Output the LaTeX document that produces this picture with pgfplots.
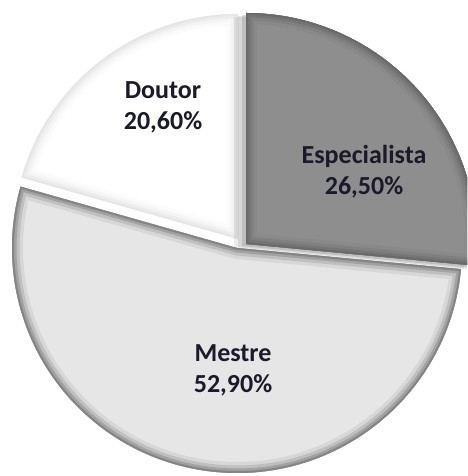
\documentclass[border=0pt]{standalone}
\usepackage{pgfplots}
\pgfplotsset{compat=1.18}
\usepackage{fontspec}
\setmainfont{Carlito}
\definecolor{espfill}{HTML}{8E8E8E}
\definecolor{espedge}{HTML}{6A6A6A}
\definecolor{mesfill}{HTML}{E6E6E6}
\definecolor{mesedge}{HTML}{858585}
\definecolor{doufill}{HTML}{FFFFFF}
\definecolor{douedge}{HTML}{E6E6E6}
\definecolor{labtxt}{HTML}{1A1A2A}
% shares (%)
\def\pEsp{26.5}
\def\pMes{52.9}
\def\pDou{20.6}
\pgfmathsetmacro\aA{90}
\pgfmathsetmacro\aB{90-3.6*\pEsp}
\pgfmathsetmacro\aC{\aB-3.6*\pMes}
\pgfmathsetmacro\aD{\aC-3.6*\pDou}
% #1,#2 apex, #3,#4 angles, #5 fill, #6 edge, #7 radius
\newcommand\slice[7]{%
  \begin{scope}
    \clip (axis cs:#1,#2) -- ++(#3:#7) arc[start angle=#3,end angle=#4,radius=#7] -- cycle;
    \fill[#5] (axis cs:#1,#2) -- ++(#3:#7) arc[start angle=#3,end angle=#4,radius=#7] -- cycle;
    \draw[line width=22pt,#6!15!#5,line join=round] (axis cs:#1,#2) -- ++(#3:#7) arc[start angle=#3,end angle=#4,radius=#7] -- cycle;
    \draw[line width=15pt,#6!40!#5,line join=round] (axis cs:#1,#2) -- ++(#3:#7) arc[start angle=#3,end angle=#4,radius=#7] -- cycle;
    \draw[line width=9pt,#6!70!#5,line join=round] (axis cs:#1,#2) -- ++(#3:#7) arc[start angle=#3,end angle=#4,radius=#7] -- cycle;
    \draw[line width=4pt,#6,line join=round] (axis cs:#1,#2) -- ++(#3:#7) arc[start angle=#3,end angle=#4,radius=#7] -- cycle;
  \end{scope}}
% soft shadow: #1,#2 apex, #3,#4 angles, #5 radius
\newcommand\shadowslice[5]{%
  \fill[black,opacity=0.07] ([shift={(-12pt,-4pt)}]axis cs:#1,#2) -- ++(#3:#5) arc[start angle=#3,end angle=#4,radius=#5] -- cycle;
  \fill[black,opacity=0.09] ([shift={(-8pt,-3pt)}]axis cs:#1,#2) -- ++(#3:#5) arc[start angle=#3,end angle=#4,radius=#5] -- cycle;
  \fill[black,opacity=0.12] ([shift={(-4pt,-2pt)}]axis cs:#1,#2) -- ++(#3:#5) arc[start angle=#3,end angle=#4,radius=#5] -- cycle;}
\begin{document}
\begin{tikzpicture}
\begin{axis}[scale only axis, width=467pt, height=476pt,
  xmin=0, xmax=467, ymin=0, ymax=476, hide axis, clip=true]
\addplot[draw=none, forget plot] coordinates {(0,0) (467,476)};
\slice{238}{237}{\aC}{\aD}{doufill}{douedge}{225pt}
\slice{237}{228}{\aB}{\aC}{mesfill}{mesedge}{225pt}
\shadowslice{246}{232}{\aA}{\aB}{231pt}
\slice{246}{232}{\aA}{\aB}{espfill}{espedge}{231pt}
\node[font=\bfseries\fontsize{26}{31}\selectfont, align=center, text=labtxt] at (axis cs:163,369) {Doutor\\20,60\%};
\node[font=\bfseries\fontsize{26}{31}\selectfont, align=center, text=labtxt] at (axis cs:364,304) {Especialista\\26,50\%};
\node[font=\bfseries\fontsize{26}{31}\selectfont, align=center, text=labtxt] at (axis cs:233,106) {Mestre\\52,90\%};
\end{axis}
\pgfresetboundingbox
\path (0,0) rectangle (467pt,476pt);
\end{tikzpicture}
\end{document}
